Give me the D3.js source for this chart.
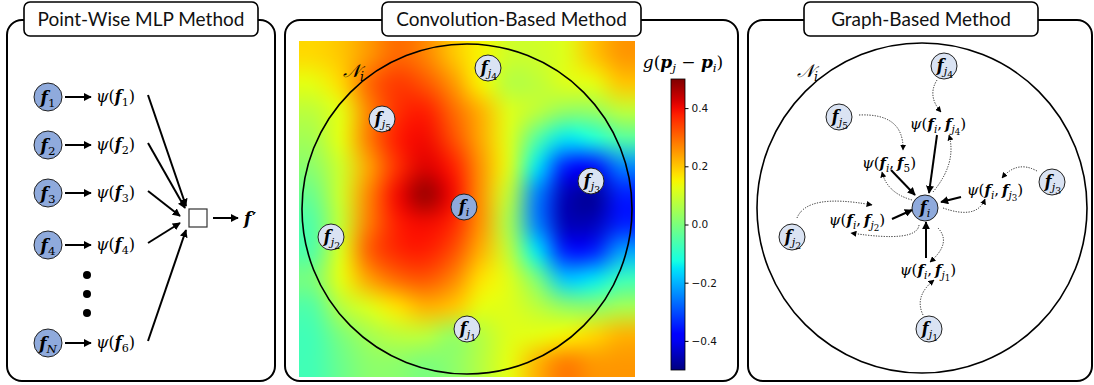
<!DOCTYPE html>
<html>
<head>
<meta charset="utf-8">
<script src="https://cdn.jsdelivr.net/npm/d3@7"></script>
<style>
  body { margin: 0; background: #fff; }
</style>
</head>
<body>
<svg id="fig" width="1094" height="385"></svg>
<script>
// Three ways of aggregating point features

const panelTitles = ["Point-Wise MLP Method", "Convolution-Based Method", "Graph-Based Method"];
const mlpInputs = ["1", "2", "3", "4", "N"];
const mlpPsi = ["1", "2", "3", "4", "6"];   // last one reads ψ(f6) in the source
const neighborIds = ["1", "2", "3", "4", "5"];
const cbDomain = [-0.5, 0.5];
const cbTicks = [-0.4, -0.2, 0.0, 0.2, 0.4];

// kernel values g(pj - pi) on a 12x12 grid (row = top to bottom)
const heatValues = [
  [0.18, 0.20, 0.25, 0.30, 0.27, 0.20, 0.15, 0.10, 0.10, 0.12, 0.20, 0.25],
  [0.13, 0.18, 0.30, 0.35, 0.32, 0.25, 0.15, 0.07, 0.08, 0.12, 0.13, 0.20],
  [0.08, 0.13, 0.27, 0.36, 0.38, 0.30, 0.22, 0.12, 0.08, 0.03, 0.03, 0.08],
  [0.05, 0.13, 0.28, 0.38, 0.40, 0.33, 0.23, 0.12, -0.05, -0.15, -0.12, -0.05],
  [0.02, 0.10, 0.24, 0.36, 0.42, 0.38, 0.25, 0.12, -0.15, -0.35, -0.37, -0.25],
  [-0.02, 0.10, 0.27, 0.40, 0.48, 0.40, 0.25, 0.08, -0.25, -0.45, -0.48, -0.35],
  [-0.05, 0.09, 0.28, 0.38, 0.40, 0.37, 0.25, 0.05, -0.25, -0.45, -0.45, -0.35],
  [-0.05, 0.12, 0.31, 0.37, 0.38, 0.33, 0.22, 0.08, -0.15, -0.35, -0.35, -0.22],
  [0.00, 0.13, 0.24, 0.30, 0.32, 0.27, 0.17, 0.12, 0.00, -0.18, -0.15, -0.08],
  [-0.05, 0.07, 0.12, 0.17, 0.22, 0.20, 0.13, 0.12, 0.08, 0.03, 0.02, 0.05],
  [-0.07, 0.00, 0.05, 0.08, 0.08, 0.03, 0.07, 0.12, 0.13, 0.15, 0.18, 0.22],
  [-0.07, -0.02, 0.02, 0.02, 0.00, 0.02, 0.07, 0.13, 0.22, 0.28, 0.25, 0.25]
];

// node positions, offsets in px from the neighbourhood centre
const convNodes = [
  { id: "i", x: -3, y: -2 }, { id: "1", x: 0, y: 120 }, { id: "2", x: -136, y: 28 },
  { id: "3", x: 124, y: -28 }, { id: "4", x: 21, y: -141 }, { id: "5", x: -85, y: -90 }
];
const graphNodes = [
  { id: "i", x: 3, y: 0 }, { id: "1", x: 7, y: 121 }, { id: "2", x: -130, y: 29 },
  { id: "3", x: 130, y: -26 }, { id: "4", x: 22, y: -142 }, { id: "5", x: -83, y: -91 }
];
// edge labels psi(fi, fj)
const graphLabels = [
  { id: "4", sub: true, x: 16, y: -84 }, { id: "5", sub: false, x: -33, y: -45 },
  { id: "3", sub: true, x: 73, y: -18 }, { id: "2", sub: true, x: -65, y: 12 },
  { id: "1", sub: true, x: 6, y: 62 }
];
const graphSolid = [
  [15, -73, 7, -15], [-31, -38, -7, -13], [39, -11, 19, -6], [-30, 11, -10, 2], [4, 50, 4, 14]
];
const graphDotted = [
  [15, -128, 5, -112, 19, -96], [-63, -93, -18, -95, -19, -58], [115, -37, 95, -48, 80, -30],
  [-125, 10, -115, -15, -50, -3], [1, 107, -8, 88, 12, 72],
  [11, -16, 35, -45, 27, -73], [-10, -8, -35, -15, -40, -36], [21, 0, 55, 12, 63, -9],
  [-3, 17, -5, 35, -71, 25], [16, 20, 30, 35, 8, 54]
];

const SERIF = "'DejaVu Serif', 'Liberation Serif', serif";
const SANS = "Lato, 'Open Sans', sans-serif";
const LIGHT = "#dae3f3", DARK = "#8faadc";

const svg = d3.select("#fig");
const defs = svg.append("defs");

function marker(id, size) {
  defs.append("marker")
    .attr("id", id)
    .attr("viewBox", "0 0 10 10")
    .attr("refX", 9).attr("refY", 5)
    .attr("markerUnits", "userSpaceOnUse")
    .attr("markerWidth", size).attr("markerHeight", size)
    .attr("orient", "auto")
    .append("path").attr("d", "M0,0 L10,5 L0,10 z").attr("fill", "#000");
}
marker("ah", 8);
marker("ahs", 6);

// matplotlib jet
const chan = pts => d3.scaleLinear().domain(pts.map(p => p[0])).range(pts.map(p => p[1])).clamp(true);
const jr = chan([[0, 0], [0.35, 0], [0.66, 1], [0.89, 1], [1, 0.5]]);
const jg = chan([[0, 0], [0.125, 0], [0.375, 1], [0.64, 1], [0.91, 0], [1, 0]]);
const jb = chan([[0, 0.5], [0.11, 1], [0.34, 1], [0.65, 0], [1, 0]]);
const jet = t => d3.rgb(jr(t) * 255, jg(t) * 255, jb(t) * 255);
const norm = d3.scaleLinear().domain(cbDomain).range([0, 1]).clamp(true);

// math label helper: parts = [text, "i"|"b"|"r", level]
function mathText(sel, x, y, parts, size, anchor = "middle") {
  const t = sel.append("text")
    .attr("x", x).attr("y", y)
    .attr("text-anchor", anchor)
    .attr("font-family", SERIF)
    .attr("font-size", size);
  const off = [0, 0.24, 0.42];
  const sc = [1, 0.7, 0.58];
  let lvl = 0;
  parts.forEach(([s, fmt, l = 0]) => {
    const ts = t.append("tspan").text(s).attr("font-size", size * sc[l]);
    if (l !== lvl) ts.attr("dy", (off[l] - off[lvl]) * size);
    if (fmt !== "r") ts.attr("font-style", "italic");
    if (fmt === "b") ts.attr("font-weight", "bold");
    lvl = l;
  });
  return t;
}

function panel(x0, x1, tx0, tx1, title) {
  svg.append("rect")
    .attr("x", x0).attr("y", 20)
    .attr("width", x1 - x0).attr("height", 361)
    .attr("rx", 15)
    .attr("fill", "#fff").attr("stroke", "#000").attr("stroke-width", 2);
  svg.append("rect")
    .attr("x", tx0).attr("y", 2)
    .attr("width", tx1 - tx0).attr("height", 34)
    .attr("rx", 6)
    .attr("fill", "#fff").attr("stroke", "#000").attr("stroke-width", 1.6);
  svg.append("text")
    .attr("x", (tx0 + tx1) / 2).attr("y", 26)
    .attr("text-anchor", "middle")
    .attr("font-family", SANS).attr("font-size", 19)
    .attr("fill", "#111")
    .text(title);
}

function node(g, x, y, id, dark) {
  g.append("circle").attr("cx", x).attr("cy", y).attr("r", 13)
    .attr("fill", dark ? DARK : LIGHT).attr("stroke", "#222").attr("stroke-width", 1);
  const parts = dark ? [["f", "b"], [id, id === "i" ? "i" : "r", 1]]
    : [["f", "b"], ["j", "i", 1], [id, "r", 2]];
  mathText(g, x + (dark ? 0 : 1), y + 5, parts, 16);
}

panel(7, 275, 24, 258, panelTitles[0]);
panel(285, 738, 382, 641, panelTitles[1]);
panel(748, 1092, 804, 1038, panelTitles[2]);

// ---- Panel 1: point-wise MLP ----
{
  const g = svg.append("g");
  const y = d3.scaleOrdinal().domain(mlpInputs).range([97, 145, 193, 245, 343]);
  const nodeX = 48, psiX = 96, box = { x: 189, y: 209, s: 18 };
  const target = [[186, 206], [185, 208], [180, 216], [180, 223], [186, 230]];

  mlpInputs.forEach((k, i) => {
    const cy = y(k);
    g.append("circle").attr("cx", nodeX).attr("cy", cy).attr("r", 14)
      .attr("fill", DARK).attr("stroke", "#222").attr("stroke-width", 1);
    mathText(g, nodeX, cy + 6, [["f", "b"], [k, k === "N" ? "i" : "r", 1]], 17);
    g.append("line").attr("x1", 65).attr("y1", cy).attr("x2", 91).attr("y2", cy)
      .attr("stroke", "#000").attr("stroke-width", 2).attr("marker-end", "url(#ah)");
    mathText(g, psiX, cy + 5, [["ψ", "i"], ["(", "r"], ["f", "b"], [mlpPsi[i], "r", 1], [")", "r"]], 16, "start");
    g.append("line").attr("x1", 148).attr("y1", cy - 2)
      .attr("x2", target[i][0]).attr("y2", target[i][1])
      .attr("stroke", "#000").attr("stroke-width", 2).attr("marker-end", "url(#ah)");
  });
  [275, 294, 313].forEach(dy => g.append("circle").attr("cx", 87).attr("cy", dy).attr("r", 4).attr("fill", "#000"));

  g.append("rect").attr("x", box.x).attr("y", box.y).attr("width", box.s).attr("height", box.s)
    .attr("fill", "#fff").attr("stroke", "#333").attr("stroke-width", 1.2);
  g.append("line").attr("x1", 213).attr("y1", 218).attr("x2", 238).attr("y2", 218)
    .attr("stroke", "#000").attr("stroke-width", 2).attr("marker-end", "url(#ah)");
  const fp = mathText(g, 244, 224, [["f", "b"]], 17, "start");
  fp.append("tspan").text("′").attr("font-family", "'DejaVu Sans', sans-serif")
    .attr("font-size", 15).attr("font-weight", "bold").attr("dx", 1);
}

// ---- Panel 2: convolution ----
{
  const g = svg.append("g");
  const hx = 299, hy = 41, hs = 336;
  const n = heatValues.length;
  const cv = document.createElement("canvas");
  cv.width = n; cv.height = n;
  const ctx = cv.getContext("2d");
  const img = ctx.createImageData(n, n);
  heatValues.forEach((row, r) => row.forEach((v, c) => {
    const col = jet(norm(v));
    const k = (r * n + c) * 4;
    img.data[k] = col.r; img.data[k + 1] = col.g; img.data[k + 2] = col.b; img.data[k + 3] = 255;
  }));
  ctx.putImageData(img, 0, 0);
  const big = document.createElement("canvas");
  big.width = hs; big.height = hs;
  const bctx = big.getContext("2d");
  bctx.imageSmoothingEnabled = true;
  bctx.imageSmoothingQuality = "high";
  bctx.drawImage(cv, 0, 0, hs, hs);

  g.append("image").attr("x", hx).attr("y", hy).attr("width", hs).attr("height", hs)
    .attr("preserveAspectRatio", "none")
    .attr("href", big.toDataURL());

  const cx = 467, cy = 209, R = 165;
  const sx = d3.scaleLinear().domain([-R, R]).range([cx - R, cx + R]);
  const sy = d3.scaleLinear().domain([-R, R]).range([cy - R, cy + R]);
  g.append("circle").attr("cx", cx).attr("cy", cy).attr("r", R)
    .attr("fill", "none").attr("stroke", "#000").attr("stroke-width", 1.6);
  mathText(g, 343, 77, [["𝒩", "i"], ["i", "i", 1]], 18, "start");
  convNodes.forEach(d => node(g, sx(d.x), sy(d.y), d.id, d.id === "i"));

  // colourbar
  const cbx = 671, cbw = 14;
  const cs = d3.scaleLinear().domain(cbDomain).range([370, 79]);
  const grad = defs.append("linearGradient").attr("id", "jetgrad")
    .attr("x1", 0).attr("y1", 1).attr("x2", 0).attr("y2", 0);
  d3.range(0, 1.0001, 0.025).forEach(t => grad.append("stop").attr("offset", t).attr("stop-color", jet(t)));
  g.append("rect").attr("x", cbx).attr("y", cs(cbDomain[1]))
    .attr("width", cbw).attr("height", cs(cbDomain[0]) - cs(cbDomain[1]))
    .attr("fill", "url(#jetgrad)").attr("stroke", "#000").attr("stroke-width", 0.8);
  const ax = g.append("g").attr("transform", `translate(${cbx + cbw},0)`)
    .call(d3.axisRight(cs).tickValues(cbTicks).tickSize(3.5).tickPadding(3)
      .tickFormat(v => d3.format(".1f")(v).replace("-", "−")));
  ax.select(".domain").remove();
  ax.selectAll("text").attr("font-family", "'DejaVu Sans', sans-serif").attr("font-size", 10.5).attr("fill", "#111");
  mathText(g, 683, 68, [["g", "i"], ["(", "r"], ["p", "b"], ["j", "i", 1], [" − ", "r"], ["p", "b"], ["i", "i", 1], [")", "r"]], 17);
}

// ---- Panel 3: graph ----
{
  const g = svg.append("g");
  const cx = 922, cy = 208, R = 165;
  const sx = d3.scaleLinear().domain([-R, R]).range([cx - R, cx + R]);
  const sy = d3.scaleLinear().domain([-R, R]).range([cy - R, cy + R]);
  g.append("circle").attr("cx", cx).attr("cy", cy).attr("r", R)
    .attr("fill", "none").attr("stroke", "#000").attr("stroke-width", 1.6);
  mathText(g, 797, 77, [["𝒩", "i"], ["i", "i", 1]], 18, "start");

  graphDotted.forEach(p => {
    g.append("path")
      .attr("d", `M${sx(p[0])},${sy(p[1])} Q${sx(p[2])},${sy(p[3])} ${sx(p[4])},${sy(p[5])}`)
      .attr("fill", "none").attr("stroke", "#222").attr("stroke-width", 1)
      .attr("stroke-dasharray", "1.2,1.4").attr("marker-end", "url(#ahs)");
  });
  graphSolid.forEach(p => {
    g.append("line").attr("x1", sx(p[0])).attr("y1", sy(p[1])).attr("x2", sx(p[2])).attr("y2", sy(p[3]))
      .attr("stroke", "#000").attr("stroke-width", 2).attr("marker-end", "url(#ah)");
  });
  graphLabels.forEach(d => {
    const tail = d.sub ? [["f", "b"], ["j", "i", 1], [d.id, "r", 2]] : [["f", "b"], [d.id, "r", 1]];
    mathText(g, sx(d.x), sy(d.y) + 5,
      [["ψ", "i"], ["(", "r"], ["f", "b"], ["i", "i", 1], [",\u2009", "r", 0]].concat(tail, [[")", "r", 0]]), 15);
  });
  graphNodes.forEach(d => node(g, sx(d.x), sy(d.y), d.id, d.id === "i"));
}
</script>
</body>
</html>
